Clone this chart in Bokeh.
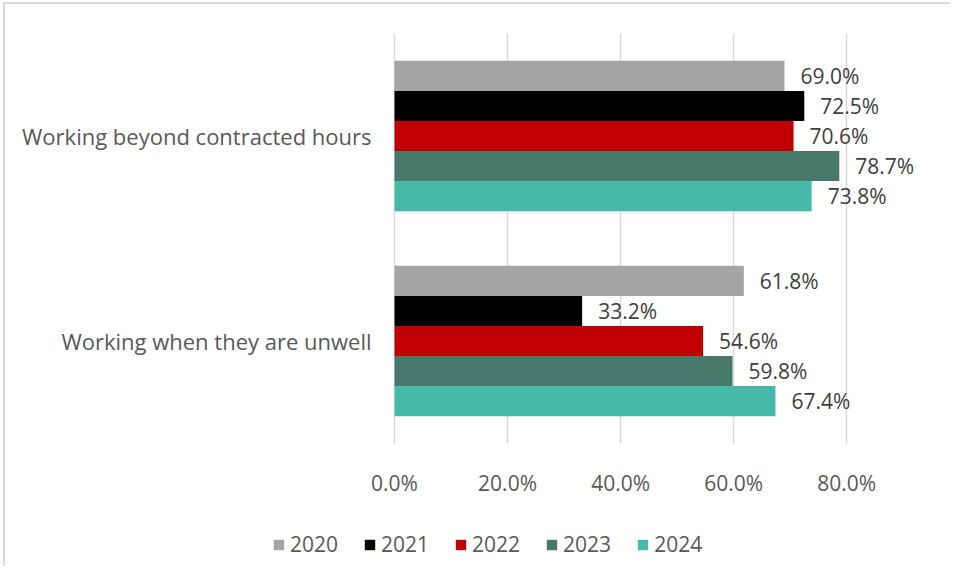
from bokeh.plotting import figure
from bokeh.layouts import column
from bokeh.models import (ColumnDataSource, FactorRange, Range1d, FixedTicker,
                          PrintfTickFormatter, Legend, LegendItem)
from bokeh.transform import dodge
from bokeh.embed import file_html
from bokeh.resources import INLINE
from bokeh.core.properties import value

categories = ["Working beyond contracted hours", "Working when they are unwell"]
years = ["2020", "2021", "2022", "2023", "2024"]
colors = ["#A5A5A5", "#000000", "#C00000", "#48786A", "#47B9AA"]
values_2020 = [69.0, 61.8]
values_2021 = [72.5, 33.2]
values_2022 = [70.6, 54.6]
values_2023 = [78.7, 59.8]
values_2024 = [73.8, 67.4]
series = [values_2020, values_2021, values_2022, values_2023, values_2024]
x_ticks = [0, 20, 40, 60, 80]

FONT = "Open Sans"
bar_h = 0.1466
offsets = [2 * bar_h, bar_h, 0.0, -bar_h, -2 * bar_h]

# frame spans from the left edge so the category labels sit inside it
p = figure(width=945, height=495, output_backend="svg", toolbar_location=None,
           y_range=FactorRange(factors=list(reversed(categories))),
           x_range=Range1d(-68.83, 96.07),
           min_border_left=0, min_border_right=13, min_border_top=29,
           min_border_bottom=43)
p.outline_line_color = None
p.background_fill_color = "white"
p.border_fill_color = "white"

sources = []
for yr, col, vals, off in zip(years, colors, series, offsets):
    src = ColumnDataSource(dict(cat=categories, val=vals,
                                lab=[f"{v:.1f}%" for v in vals]))
    sources.append(src)
    p.hbar(y=dodge("cat", off, range=p.y_range), left=0, right="val",
           height=bar_h, source=src, fill_color=col, line_color=None)
    p.text(x="val", y=dodge("cat", off, range=p.y_range), text="lab", source=src,
           x_offset=16, text_align="left", text_baseline="middle",
           text_font=value(FONT), text_font_size="21px", text_color="#404040")

# category labels
cat_src = ColumnDataSource(dict(cat=categories, zero=[0] * len(categories)))
p.text(x="zero", y="cat", text="cat", source=cat_src, x_offset=-23,
       text_align="right", text_baseline="middle", text_font=value(FONT),
       text_font_size="22px", text_color="#595959")

# axes
p.yaxis.visible = False
p.xaxis.ticker = FixedTicker(ticks=x_ticks)
p.xaxis.formatter = PrintfTickFormatter(format="%.1f%%")
p.xaxis.axis_line_color = None
p.xaxis.major_tick_line_color = None
p.xaxis.minor_tick_line_color = None
p.xaxis.major_label_text_font = FONT
p.xaxis.major_label_text_font_size = "21px"
p.xaxis.major_label_text_color = "#595959"
p.xaxis.major_label_standoff = 19

p.xgrid.ticker = FixedTicker(ticks=x_ticks)
p.xgrid.grid_line_color = "#D9D9D9"
p.xgrid.grid_line_width = 1.5
p.ygrid.grid_line_color = None

# legend strip below the chart
lg = figure(width=945, height=67, output_backend="svg", toolbar_location=None,
            x_range=Range1d(0, 100), y_range=FactorRange(factors=categories),
            min_border=0, min_border_left=0, min_border_right=13,
            min_border_top=0, min_border_bottom=0)
lg.axis.visible = False
lg.grid.visible = False
lg.outline_line_color = None
lg.background_fill_color = "white"
lg.border_fill_color = "white"

items = []
for yr, col, src in zip(years, colors, sources):
    r = lg.hbar(y="cat", left=0, right="val", height=0.5, source=src,
                fill_color=col, line_color=None, visible=False)
    items.append(LegendItem(label=yr, renderers=[r]))

legend = Legend(items=items, orientation="horizontal", location=(267, 8),
                glyph_width=13, glyph_height=13, label_standoff=5, spacing=25,
                padding=0, margin=0, border_line_color=None,
                background_fill_alpha=0, inactive_fill_alpha=0,
                click_policy="none",
                label_text_font=FONT, label_text_font_size="21px",
                label_text_color="#595959")
lg.add_layout(legend, "center")

layout = column(p, lg, spacing=0, margin=(2, 0, 0, 3),
                styles={"border-left": "2px solid #D9D9D9",
                        "border-top": "2px solid #D9D9D9"})
open("out.html", "w").write(file_html(layout, INLINE))
